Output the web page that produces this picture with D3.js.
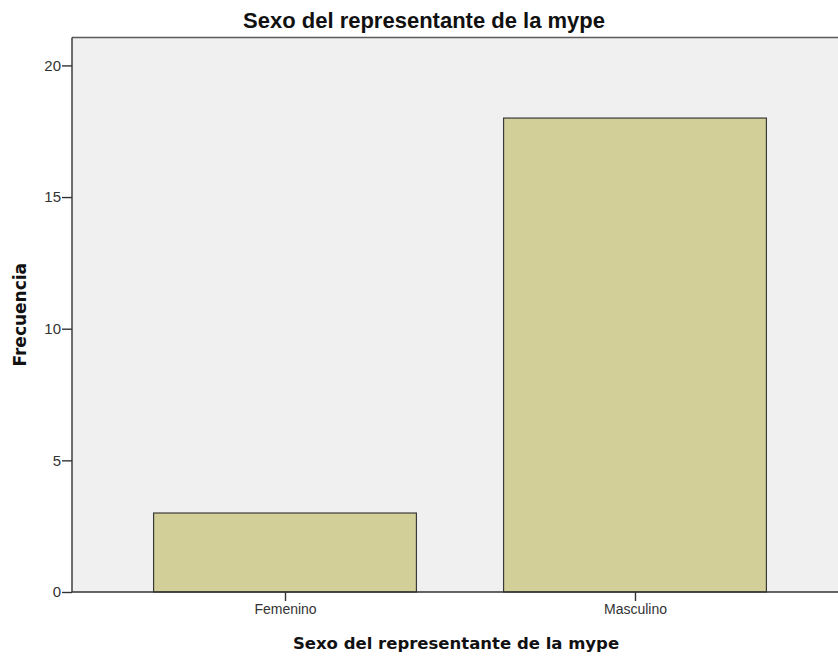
<!DOCTYPE html>
<html><head><meta charset="utf-8">
<script src="https://cdn.jsdelivr.net/npm/d3@7"></script>
<style>body{margin:0;background:#fff}svg{display:block}</style>
</head><body>
<svg id="c" width="838" height="659"></svg>
<script>
const categories = ["Femenino", "Masculino"];
const values = [3, 18];
const yTicks = [0, 5, 10, 15, 20];
const title = "Sexo del representante de la mype";
const xTitle = "Sexo del representante de la mype";
const yTitle = "Frecuencia";

const svg = d3.select("#c");
const L = 72, R = 848, T = 37.5, B = 592;

const x = d3.scalePoint().domain(categories).range([L, R]).padding(0.6086);
const barW = x.step() * 0.751;
const y = d3.scaleLinear().domain([0, 21.06]).range([B, T]);

svg.append("rect").attr("x", L).attr("y", T).attr("width", R - L).attr("height", B - T)
  .attr("fill", "#f0f0f0");
svg.append("line").attr("x1", L).attr("x2", R).attr("y1", T).attr("y2", T)
  .attr("stroke", "#5a5a5a").attr("stroke-width", 1.5);

svg.selectAll(".bar").data(values).enter().append("rect")
  .attr("x", (d, i) => x(categories[i]) - barW / 2)
  .attr("y", d => y(d))
  .attr("width", barW)
  .attr("height", d => B - y(d))
  .attr("fill", "#d3cf98")
  .attr("stroke", "#3a3a3a").attr("stroke-width", 1.2);

const yAxis = svg.append("g").attr("transform", `translate(${L},0)`)
  .call(d3.axisLeft(y).tickValues(yTicks).tickSize(10).tickPadding(1));
yAxis.select(".domain").attr("d", `M0,${T}V${B}`).attr("stroke", "#333").attr("stroke-width", 1.4);
yAxis.selectAll(".tick line").attr("stroke", "#333").attr("stroke-width", 1.4);
yAxis.selectAll("text").attr("font-family", "Liberation Sans, Arial, sans-serif")
  .attr("font-size", 15).attr("fill", "#333");

const xAxis = svg.append("g").attr("transform", `translate(0,${B})`)
  .call(d3.axisBottom(x).tickSize(9).tickPadding(3));
xAxis.select(".domain").attr("d", `M${L},0H${R}`).attr("stroke", "#333").attr("stroke-width", 1.4);
xAxis.selectAll(".tick line").attr("stroke", "#333").attr("stroke-width", 1.4);
xAxis.selectAll("text").attr("font-family", "Liberation Sans, Arial, sans-serif")
  .attr("font-size", 14).attr("fill", "#333");

svg.append("text").attr("x", 424).attr("y", 28).attr("text-anchor", "middle")
  .attr("font-family", "Liberation Sans, Arial, sans-serif").attr("font-weight", "bold")
  .attr("font-size", 22).attr("fill", "#111").text(title);

svg.append("text").attr("x", 456).attr("y", 649).attr("text-anchor", "middle")
  .attr("font-family", "DejaVu Sans, sans-serif").attr("font-weight", "bold")
  .attr("font-size", 16.5).attr("fill", "#111").text(xTitle);

svg.append("text").attr("transform", `translate(26,${(T + B) / 2}) rotate(-90)`)
  .attr("text-anchor", "middle")
  .attr("font-family", "DejaVu Sans, sans-serif").attr("font-weight", "bold")
  .attr("font-size", 17).attr("fill", "#111").text(yTitle);
</script>
</body></html>
